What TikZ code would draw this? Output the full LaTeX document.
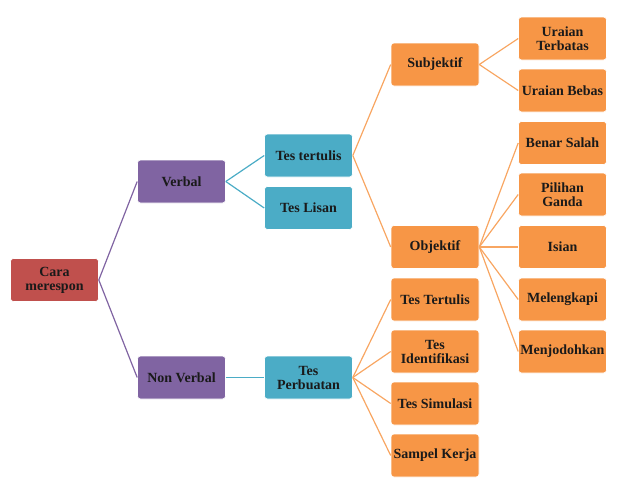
\documentclass[tikz,border=0pt]{standalone}
\usepackage{fontspec}
\setmainfont{Liberation Serif}
\definecolor{cred}{HTML}{C0504D}
\definecolor{cpurple}{HTML}{8064A2}
\definecolor{cteal}{HTML}{4BACC6}
\definecolor{corange}{HTML}{F79646}
\definecolor{ctext}{HTML}{1A1A1A}
\tikzset{
  box/.style={rectangle, rounded corners=3pt, minimum width=88pt, minimum height=43pt,
    inner sep=1pt, align=center, text=ctext, draw=white, line width=0.6pt,
    font=\bfseries\fontsize{14}{14}\selectfont},
  redbox/.style={box, fill=cred},
  purplebox/.style={box, fill=cpurple},
  tealbox/.style={box, fill=cteal},
  orangebox/.style={box, fill=corange},
  plink/.style={draw=cpurple, line width=1.2pt},
  tlink/.style={draw=cteal, line width=1.2pt},
  olink/.style={draw=corange!85!white, line width=1.2pt}
}
\begin{document}
\begin{tikzpicture}[x=1pt,y=-1pt]
\useasboundingbox (0,0) rectangle (638,479);
% column 0
\node[redbox] (cara) at (54.5,280) {Cara\\merespon};
% column 1
\node[purplebox] (verbal) at (181.5,181.5) {Verbal};
\node[purplebox] (nonverbal) at (181.5,377.5) {Non Verbal};
% column 2
\node[tealbox] (testertulis) at (308.5,155.5) {Tes tertulis};
\node[tealbox] (teslisan) at (308.5,208) {Tes Lisan};
\node[tealbox] (tesperbuatan) at (308.5,377.5) {Tes\\Perbuatan};
% column 3
\node[orangebox] (subjektif) at (435,64.5) {Subjektif};
\node[orangebox] (objektif) at (435,247) {Objektif};
\node[orangebox] (tesTertulis) at (435,299.5) {Tes Tertulis};
\node[orangebox] (tesident) at (435,351.5) {Tes\\Identifikasi};
\node[orangebox] (tessim) at (435,403.5) {Tes Simulasi};
\node[orangebox] (sampel) at (435,455.5) {Sampel Kerja};
% column 4
\node[orangebox] (uterbatas) at (562.5,38.5) {Uraian\\Terbatas};
\node[orangebox] (ubebas) at (562.5,90.5) {Uraian Bebas};
\node[orangebox] (benar) at (562.5,143) {Benar Salah};
\node[orangebox] (pilihan) at (562.5,194.5) {Pilihan\\Ganda};
\node[orangebox] (isian) at (562.5,247) {Isian};
\node[orangebox] (melengkapi) at (562.5,299.5) {Melengkapi};
\node[orangebox] (menjodohkan) at (562.5,351.5) {Menjodohkan};
% connectors
\draw[plink] (cara.east) -- (verbal.west);
\draw[plink] (cara.east) -- (nonverbal.west);
\draw[tlink] (verbal.east) -- (testertulis.west);
\draw[tlink] (verbal.east) -- (teslisan.west);
\draw[tlink] (nonverbal.east) -- (tesperbuatan.west);
\draw[olink] (testertulis.east) -- (subjektif.west);
\draw[olink] (testertulis.east) -- (objektif.west);
\draw[olink] (tesperbuatan.east) -- (tesTertulis.west);
\draw[olink] (tesperbuatan.east) -- (tesident.west);
\draw[olink] (tesperbuatan.east) -- (tessim.west);
\draw[olink] (tesperbuatan.east) -- (sampel.west);
\draw[olink] (subjektif.east) -- (uterbatas.west);
\draw[olink] (subjektif.east) -- (ubebas.west);
\draw[olink] (objektif.east) -- (benar.west);
\draw[olink] (objektif.east) -- (pilihan.west);
\draw[olink] (objektif.east) -- (isian.west);
\draw[olink] (objektif.east) -- (melengkapi.west);
\draw[olink] (objektif.east) -- (menjodohkan.west);
\end{tikzpicture}
\end{document}
